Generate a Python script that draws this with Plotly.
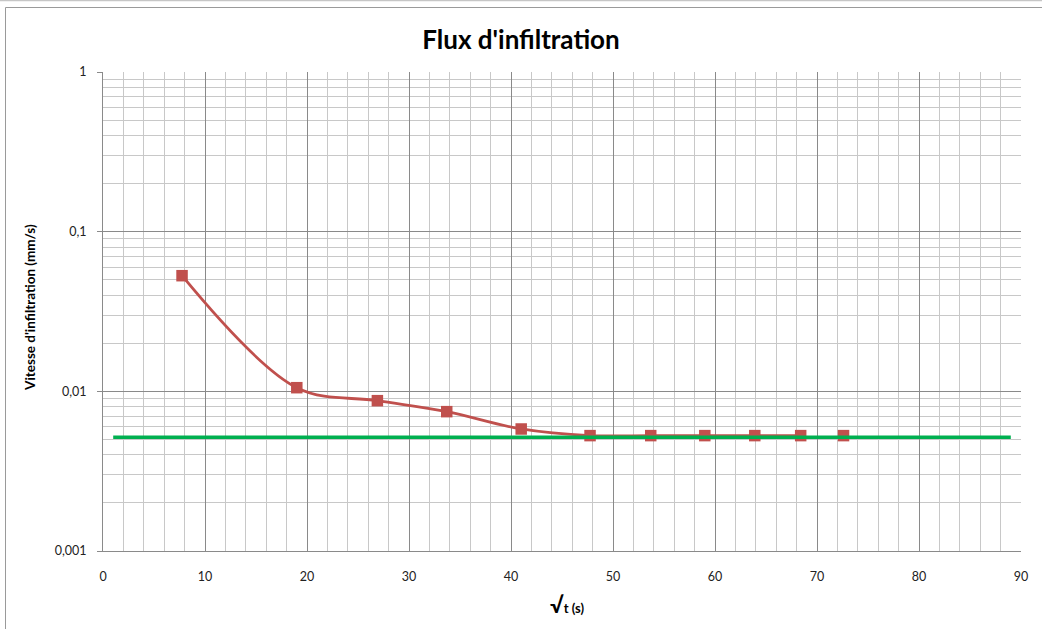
import plotly.graph_objects as go

# Mesures : racine du temps (s^0.5) et vitesse d'infiltration (mm/s)
sqrt_t = [7.75, 19.0, 26.9, 33.7, 41.0, 47.75, 53.7, 59.0, 63.9, 68.4, 72.6]
vitesse = [0.0530, 0.01054, 0.00874, 0.00746, 0.00581, 0.00528, 0.00528,
           0.00528, 0.00528, 0.00528, 0.00528]
# Points reliés par la courbe lissée
n_courbe = 10

# Vitesse d'infiltration finale (palier)
palier_x = [1, 89]
palier_y = [0.00515, 0.00515]

y_ticks = [1, 0.1, 0.01, 0.001]
y_labels = ["1", "0,1", "0,01", "0,001"]
x_ticks = [0, 10, 20, 30, 40, 50, 60, 70, 80, 90]

W, H = 1042, 629
L, R, T, B = 103, 21, 72, 78
PW, PH = W - L - R, H - T - B


def px_x(p):
    return (p - L) / PW


def px_y(p):
    return (H - B - p) / PH


ROUGE = "#C0504D"
VERT = "#00B050"
FONT = "Lato"

fig = go.Figure()

fig.add_trace(go.Scatter(
    x=sqrt_t[:n_courbe], y=vitesse[:n_courbe], mode="lines",
    line=dict(color=ROUGE, width=2.8, shape="spline", smoothing=1.0),
    showlegend=False, hoverinfo="skip"))

fig.add_trace(go.Scatter(
    x=sqrt_t, y=vitesse, mode="markers",
    marker=dict(symbol="square", size=11.5, color=ROUGE,
                line=dict(color=ROUGE, width=0)),
    showlegend=False))

fig.add_trace(go.Scatter(
    x=palier_x, y=palier_y, mode="lines",
    line=dict(color=VERT, width=3.5),
    showlegend=False))

fig.update_layout(
    width=W, height=H,
    margin=dict(l=L, r=R, t=T, b=B, pad=0),
    paper_bgcolor="white", plot_bgcolor="white",
    font=dict(family=FONT, size=12, color="#222222"),
    title=dict(text="<b>Flux d'infiltration</b>", x=0.5, xanchor="center",
               xref="container", y=1 - 40 / H, yanchor="middle",
               yref="container",
               font=dict(family=FONT, size=26, color="#000000")),
    xaxis=dict(
        range=[0, 90], tickvals=x_ticks, ticks="",
        showgrid=True, gridcolor="#8a8a8a", gridwidth=1,
        minor=dict(dtick=2, showgrid=True, gridcolor="#c8c8c8", gridwidth=1),
        showline=True, linecolor="#8a8a8a", linewidth=1,
        zeroline=False, automargin=False, ticklabelstandoff=14,
        tickfont=dict(family=FONT, size=12.5, color="#222222")),
    yaxis=dict(
        type="log", range=[-3, 0], tickvals=y_ticks, ticktext=y_labels,
        ticks="outside", ticklen=5, tickcolor="#8a8a8a",
        showgrid=True, gridcolor="#8a8a8a", gridwidth=1,
        minor=dict(dtick="D1", showgrid=True, gridcolor="#c8c8c8",
                   gridwidth=1, ticks=""),
        showline=True, linecolor="#8a8a8a", linewidth=1,
        zeroline=False, automargin=False, ticklabelstandoff=8,
        tickfont=dict(family=FONT, size=12.5, color="#222222")),
    annotations=[
        dict(text="<b>Vitesse d'infiltration (mm/s)</b>", textangle=-90,
             xref="paper", yref="paper", x=px_x(30), y=px_y(308),
             xanchor="center", yanchor="middle", showarrow=False,
             font=dict(family=FONT, size=13.5, color="#000000")),
        dict(text="<b>√<span style='font-size:13px'>t (s)</span></b>",
             xref="paper", yref="paper", x=px_x(567), y=px_y(604),
             xanchor="center", yanchor="middle", showarrow=False,
             font=dict(family=FONT, size=22, color="#000000")),
    ],
    shapes=[
        dict(type="line", xref="paper", yref="paper",
             x0=px_x(0), x1=px_x(W), y0=px_y(0.5), y1=px_y(0.5),
             line=dict(color="#c6c6c6", width=1.5)),
        dict(type="line", xref="paper", yref="paper",
             x0=px_x(5.5), x1=px_x(W), y0=px_y(7.5), y1=px_y(7.5),
             line=dict(color="#9a9a9a", width=1)),
        dict(type="line", xref="paper", yref="paper",
             x0=px_x(5.5), x1=px_x(5.5), y0=px_y(7.5), y1=px_y(H),
             line=dict(color="#9a9a9a", width=1)),
    ],
)

fig.write_html("out.html")
